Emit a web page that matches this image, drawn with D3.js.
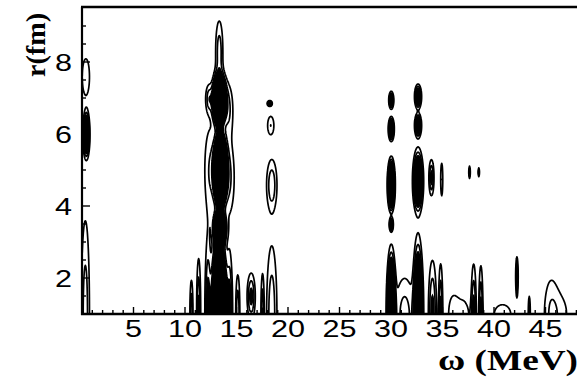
<!DOCTYPE html>
<html><head><meta charset="utf-8">
<script src="https://cdn.jsdelivr.net/npm/d3@7"></script>
<style>html,body{margin:0;padding:0;background:#fff;} svg{display:block;}</style>
</head><body>
<svg id="chart" width="577" height="380"></svg>
<script>
// Axis ticks
const omegaTicks = [5, 10, 15, 20, 25, 30, 35, 40, 45];
const rTicks = [2, 4, 6, 8];

// Strength maxima of the transition density map:
// centre (omega in MeV, r in fm), half-extent of the outermost contour, peak height
const peakOmega = [0.35, 0.4, 0.3, 13.3, 13.3, 13.4, 13.35, 13.3, 12.4, 14.3, 14.2, 12.3,
  10.6, 11.3, 12.2, 14.3, 15.1, 16.4, 17.5, 18.4, 18.4, 18.3, 18.2,
  30.0, 30.0, 30.0, 30.0, 30.0, 32.6, 32.6, 32.6, 32.6, 31.3,
  33.9, 34.9, 34.0, 34.8, 37.6, 38.5, 36.0, 37.0, 38.0, 38.7, 40.8, 42.2, 43.4, 45.5, 46.4];
const peakR = [7.6, 6.0, 1.0, 8.3, 6.95, 5.0, 3.4, 1.0, 5.0, 4.8, 6.7, 7.0,
  1.0, 1.0, 1.0, 1.0, 1.0, 1.5, 1.0, 1.0, 4.6, 6.25, 6.86,
  6.95, 6.15, 4.6, 3.5, 1.0, 7.05, 6.25, 4.7, 1.0, 1.0,
  4.8, 4.75, 1.0, 1.0, 4.95, 4.95, 1.0, 1.0, 1.0, 1.0, 1.0, 2.05, 1.0, 1.0, 1.0];
const peakHalfW = [0.35, 0.35, 0.4, 0.35, 0.85, 0.85, 0.75, 0.95, 0.5, 0.45, 0.4, 0.3,
  0.15, 0.2, 0.3, 0.3, 0.2, 0.4, 0.15, 0.5, 0.5, 0.3, 0.25,
  0.25, 0.3, 0.4, 0.2, 0.5, 0.35, 0.35, 0.55, 0.55, 0.9,
  0.25, 0.1, 0.4, 0.2, 0.07, 0.06, 0.4, 0.5, 0.25, 0.2, 0.8, 0.12, 0.1, 0.5, 0.6];
const peakHalfR = [0.5, 0.7, 2.6, 0.85, 0.9, 1.3, 0.6, 2.5, 1.1, 0.9, 0.6, 0.35,
  0.95, 1.55, 2.05, 1.7, 1.1, 0.65, 1.1, 1.9, 0.7, 0.25, 0.08,
  0.25, 0.35, 0.8, 0.2, 1.95, 0.35, 0.35, 0.95, 2.25, 1.0,
  0.5, 0.45, 1.5, 1.4, 0.17, 0.12, 0.45, 0.35, 1.4, 1.35, 0.27, 0.55, 0.5, 0.8, 0.4];
const peakHeight = [1.8, 12, 2.6, 2.6, 30, 40, 20, 40, 2, 2, 2, 2.5,
  3, 3.5, 4, 4, 3, 3.5, 3, 2.8, 2.8, 2, 8,
  7, 10, 25, 8, 25, 8, 8, 12, 15, 2.5,
  3.5, 2, 3.5, 3.5, 3, 3, 1.5, 1.5, 3.5, 3.5, 1.4, 4, 2.5, 1.6, 1.3];

// Contour levels drawn as lines, and the level above which the map is solid
const lineLevels = [1, 2];
const solidLevel = 3;

const W = 577, H = 380;
const svg = d3.select("#chart");

const x = d3.scaleLinear().domain([0, 50]).range([82, 597]);
const y = d3.scaleLinear().domain([1, 9.5]).range([314, 8]);

// Sample the map on a regular grid (row 0 = top of the frame)
const dW = 0.05, dR = 0.025;
const wMin = 0, wMax = 50, rMin = 1, rMax = 9.5;
const nx = Math.round((wMax - wMin) / dW) + 1;
const ny = Math.round((rMax - rMin) / dR) + 1;
const grid = new Float64Array(nx * ny);
for (let k = 0; k < peakOmega.length; k++) {
  const w0 = peakOmega[k], r0 = peakR[k], hw = peakHalfW[k], hr = peakHalfR[k], A = peakHeight[k];
  const lnA = Math.log(A);
  const i0 = Math.max(0, Math.floor((w0 - 3 * hw - wMin) / dW));
  const i1 = Math.min(nx - 1, Math.ceil((w0 + 3 * hw - wMin) / dW));
  const j0 = Math.max(0, Math.floor((rMax - (r0 + 3 * hr)) / dR));
  const j1 = Math.min(ny - 1, Math.ceil((rMax - (r0 - 3 * hr)) / dR));
  for (let j = j0; j <= j1; j++) {
    const r = rMax - j * dR;
    const qy = (r - r0) / hr;
    for (let i = i0; i <= i1; i++) {
      const w = wMin + i * dW;
      const qx = (w - w0) / hw;
      grid[i + j * nx] += A * Math.exp(-lnA * (qx * qx + qy * qy));
    }
  }
}

const toScreen = d3.geoTransform({
  point(gx, gy) {
    this.stream.point(x(wMin + gx * dW), y(rMax - gy * dR));
  }
});
const path = d3.geoPath(toScreen);

svg.append("clipPath").attr("id", "plotClip")
  .append("rect").attr("x", 82).attr("y", 8).attr("width", W - 82).attr("height", 306);

const plot = svg.append("g").attr("clip-path", "url(#plotClip)");

const contours = d3.contours().size([nx, ny]);

plot.selectAll("path.solid")
  .data(contours.thresholds([solidLevel])(grid))
  .join("path")
  .attr("class", "solid")
  .attr("d", path)
  .attr("fill", "#000")
  .attr("stroke", "#000")
  .attr("stroke-width", 1.6);

plot.selectAll("path.line")
  .data(contours.thresholds(lineLevels)(grid))
  .join("path")
  .attr("class", "line")
  .attr("d", path)
  .attr("fill", "none")
  .attr("stroke", "#000")
  .attr("stroke-width", 1.7)
  .attr("stroke-linejoin", "round");

// Frame: left and bottom axes plus top edge
const frame = svg.append("g").attr("stroke", "#000").attr("fill", "none");
frame.append("line").attr("x1", 82).attr("x2", 82).attr("y1", 7).attr("y2", 315).attr("stroke-width", 2.2);
frame.append("line").attr("x1", 81).attr("x2", W).attr("y1", 314).attr("y2", 314).attr("stroke-width", 2.6);
frame.append("line").attr("x1", 81).attr("x2", W).attr("y1", 7).attr("y2", 7).attr("stroke-width", 2.6);

// Tick marks (inward)
const wMinor = d3.range(1, 50, 1);
frame.selectAll("line.xt").data(wMinor).join("line")
  .attr("x1", d => x(d)).attr("x2", d => x(d))
  .attr("y1", 314).attr("y2", d => 314 - (d % 5 === 0 ? 7 : 4))
  .attr("stroke-width", 1.4);
const rMinor = d3.range(1.5, 9.5, 0.5);
frame.selectAll("line.yt").data(rMinor).join("line")
  .attr("y1", d => y(d)).attr("y2", d => y(d))
  .attr("x1", 82).attr("x2", d => 82 + (d % 2 === 0 ? 8 : 4))
  .attr("stroke-width", 1.4);

// Tick labels
const labels = svg.append("g").attr("font-family", "'Liberation Sans', Arial, sans-serif")
  .attr("font-size", 24).attr("fill", "#000");
labels.selectAll("text.xl").data(omegaTicks).join("text")
  .attr("x", d => x(d)).attr("y", 337)
  .attr("text-anchor", "middle")
  .attr("textLength", d => String(d).length * 17)
  .attr("lengthAdjust", "spacingAndGlyphs")
  .text(d => d);
labels.selectAll("text.yl").data(rTicks).join("text")
  .attr("x", 72).attr("y", d => y(d) + 8.5)
  .attr("text-anchor", "end")
  .attr("textLength", 17)
  .attr("lengthAdjust", "spacingAndGlyphs")
  .text(d => d);

// Axis titles
svg.append("text")
  .attr("transform", "translate(45,77) rotate(-90)")
  .attr("font-family", "'Liberation Serif', 'Times New Roman', serif")
  .attr("font-weight", "bold").attr("font-size", 28)
  .attr("textLength", 64).attr("lengthAdjust", "spacingAndGlyphs")
  .text("r(fm)");
svg.append("text")
  .attr("x", 438).attr("y", 370)
  .attr("font-family", "'Liberation Serif', 'Times New Roman', serif")
  .attr("font-weight", "bold").attr("font-size", 30)
  .attr("textLength", 140).attr("lengthAdjust", "spacingAndGlyphs")
  .text("ω (MeV)");
</script>
</body></html>
